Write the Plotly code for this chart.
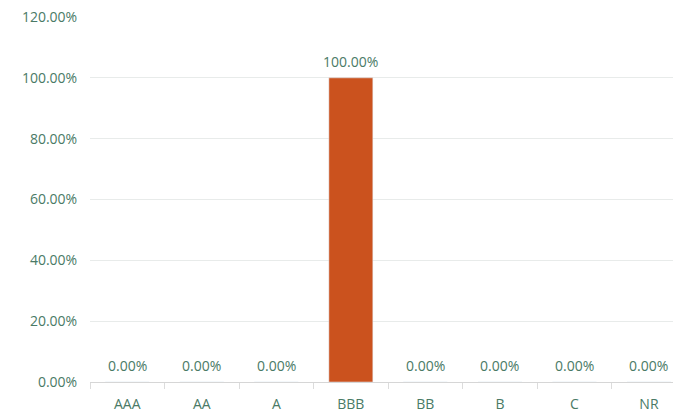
import plotly.graph_objects as go

categories = ["AAA", "AA", "A", "BBB", "BB", "B", "C", "NR"]
values = [0, 0, 0, 100, 0, 0, 0, 0]
y_ticks = [0, 20, 40, 60, 80, 100, 120]
y_tick_labels = [f"{v:.2f}%" for v in y_ticks]
value_labels = [f"{v:.2f}%" for v in values]

text_color = "#4a7a66"
font_family = "Open Sans, Noto Sans, sans-serif"
font_size = 14
fig = go.Figure(go.Bar(
    x=categories, y=values,
    marker_color="#cb521e",
    width=0.59,
    cliponaxis=True,
))
for c, v, t in zip(categories, values, value_labels):
    fig.add_annotation(x=c, y=v, text=t, showarrow=False, yanchor="bottom",
                       yshift=5, font=dict(color=text_color, size=font_size, family=font_family))
# page body has an 8px margin, so the figure is sized to fit the remaining area
fig.update_layout(
    width=673, height=406,
    margin=dict(l=82, r=0, t=9, b=32, autoexpand=False),
    paper_bgcolor="white", plot_bgcolor="white",
    font=dict(family=font_family, size=font_size, color=text_color),
    showlegend=False,
)
fig.update_xaxes(
    range=[-0.5, 7.43], automargin=False,
    tickson="boundaries", ticks="outside", ticklen=6, tickcolor="#dcdcdc",
    showline=True, linecolor="#d6d6d6", showgrid=False,
    ticklabelstandoff=9,
    tickfont=dict(color=text_color, size=font_size),
)
fig.update_yaxes(
    range=[0, 120], tickvals=y_ticks, ticktext=y_tick_labels, automargin=False,
    showgrid=True, gridcolor="#e8ebea", zeroline=False,
    ticks="outside", ticklen=9, tickcolor="rgba(0,0,0,0)",
    ticklabeloverflow="allow",
    tickfont=dict(color=text_color, size=font_size),
)
fig.write_html("out.html")
